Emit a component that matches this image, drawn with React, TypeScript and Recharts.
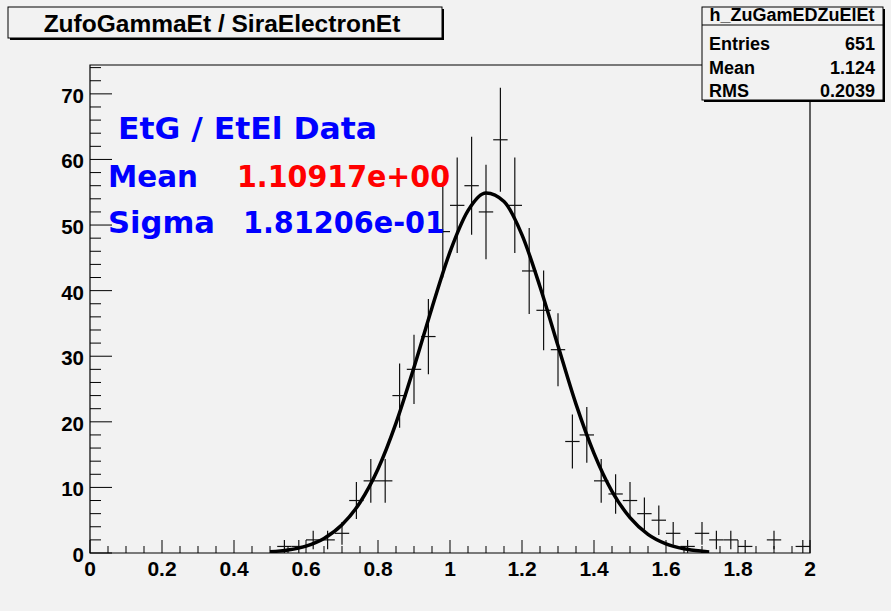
import React from 'react';
import { ComposedChart, Scatter, Line, XAxis, YAxis, ErrorBar, ReferenceArea } from 'recharts';

// histogram bins (width 0.04)
const binCenters = [
  0.54, 0.58, 0.62, 0.66, 0.7, 0.74, 0.78, 0.82, 0.86, 0.9, 0.94, 0.98,
  1.02, 1.06, 1.1, 1.14, 1.18, 1.22, 1.26, 1.3, 1.34, 1.38, 1.42, 1.46,
  1.5, 1.54, 1.58, 1.62, 1.66, 1.7, 1.74, 1.78, 1.82, 1.9, 1.98,
];
const binCounts = [
  1, 1, 2, 2, 3, 8, 11, 11, 24, 28, 33, 49,
  53, 56, 52, 63, 53, 43, 37, 31, 17, 18, 11, 9,
  8, 6, 5, 3, 1, 3, 2, 2, 1, 2, 1,
];
const binErrors = [
  1, 1, 1.41, 1.41, 1.73, 2.83, 3.32, 3.32, 4.9, 5.29, 5.74, 7,
  7.28, 7.48, 7.21, 7.94, 7.28, 6.56, 6.08, 5.57, 4.12, 4.24, 3.32, 3,
  2.83, 2.45, 2.24, 1.73, 1, 1.73, 1.41, 1.41, 1, 1.41, 1,
];
const binHalfWidth = 0.02;

// gaussian fit curve as drawn
const fitX = [
  0.5, 0.55, 0.6, 0.65, 0.7, 0.75, 0.8, 0.85, 0.9, 0.95, 1.0, 1.05, 1.1,
  1.15, 1.2, 1.25, 1.3, 1.35, 1.4, 1.45, 1.5, 1.55, 1.6, 1.65, 1.7, 1.72,
];
const fitY = [
  0.19, 0.47, 1.06, 2.22, 4.3, 7.7, 12.8, 19.8, 28.3, 37.4, 45.9, 52.2, 54.9,
  53.6, 48.5, 40.6, 31.6, 22.7, 15.2, 9.4, 5.4, 2.85, 1.4, 0.64, 0.27, 0.17,
];

const xMajorTicks = [0, 0.2, 0.4, 0.6, 0.8, 1, 1.2, 1.4, 1.6, 1.8, 2];
const yMajorTicks = [0, 10, 20, 30, 40, 50, 60, 70];
const xMinorStep = 0.05;
const yMinorStep = 2;

const statsRows = [
  ['Entries', '651'],
  ['Mean', '1.124'],
  ['RMS', '0.2039'],
];

const BG = '#f2f2f2';
const W = 891;
const H = 611;
const X_MAX = 2;
const Y_MAX = 74.4;

const histData = binCenters.map((x, i) => ({ x, y: binCounts[i], ey: binErrors[i], ex: binHalfWidth }));
const fitData = fitX.map((x, i) => ({ x, y: fitY[i] }));

const buildTicks = (max: number, step: number) => {
  const out: number[] = [];
  for (let i = 0; i * step <= max + 1e-9; i++) out.push(Math.round(i * step * 1000) / 1000);
  return out;
};
const xTicks = buildTicks(X_MAX, xMinorStep);
const yTicks = buildTicks(Y_MAX, yMinorStep);

const isMajor = (v: number, majors: number[]) => majors.some((m) => Math.abs(m - v) < 1e-6);

const XTick = ({ x, y, payload }: any) => {
  const major = isMajor(payload.value, xMajorTicks);
  return (
    <g>
      <line x1={x} x2={x} y1={y} y2={y - (major ? 13 : 7)} stroke="#000" />
      {major && (
        <text x={x} y={y + 23} textAnchor="middle" fontFamily="'Liberation Sans', Arial" fontWeight="bold" fontSize={21} fill="#000">
          {String(payload.value)}
        </text>
      )}
    </g>
  );
};

const YTick = ({ x, y, payload }: any) => {
  const major = isMajor(payload.value, yMajorTicks);
  return (
    <g>
      <line x1={x} x2={x + (major ? 22 : 11)} y1={y} y2={y} stroke="#000" />
      {major && (
        <text x={x - 6} y={y + 9} textAnchor="end" fontFamily="'Liberation Sans', Arial" fontWeight="bold" fontSize={20.5} fill="#000">
          {String(payload.value)}
        </text>
      )}
    </g>
  );
};

const Overlay = () => (
  <svg width={W} height={H} style={{ position: 'absolute', left: 0, top: 0, pointerEvents: 'none' }}>
    {/* title box */}
    <rect x={10} y={9} width={434} height={31} fill="#000" />
    <rect x={8} y={7} width={434} height={31} fill={BG} stroke="#000" />
    <text x={222} y={32} textAnchor="middle" fontFamily="'Liberation Sans', Arial" fontWeight="bold" fontSize={24.5} fill="#000">
      ZufoGammaEt / SiraElectronEt
    </text>

    {/* stats box */}
    <rect x={704} y={9} width={181} height={93} fill="#000" />
    <rect x={702} y={7} width={181} height={93} fill={BG} stroke="#000" />
    <line x1={702} x2={883} y1={25} y2={25} stroke="#000" />
    <text x={792} y={21} textAnchor="middle" fontFamily="'Liberation Sans', Arial" fontWeight="bold" fontSize={18} fill="#000">
      h_ZuGamEDZuElEt
    </text>
    {statsRows.map(([k, v], i) => (
      <g key={k}>
        <text x={709} y={50 + i * 23.5} fontFamily="'Liberation Sans', Arial" fontWeight="bold" fontSize={18} fill="#000">{k}</text>
        <text x={875} y={50 + i * 23.5} textAnchor="end" fontFamily="'Liberation Sans', Arial" fontWeight="bold" fontSize={18} fill="#000">{v}</text>
      </g>
    ))}

    {/* fit result text */}
    <g fontFamily="'DejaVu Sans', Verdana, sans-serif" fontWeight="bold" fontSize={31}>
      <text x={118} y={139} fill="#0000ff" textLength={259} lengthAdjust="spacingAndGlyphs">EtG / EtEl Data</text>
      <text x={108} y={187} fill="#0000ff" textLength={90} lengthAdjust="spacingAndGlyphs">Mean</text>
      <text x={237} y={187} fill="#ff0000" textLength={213} lengthAdjust="spacingAndGlyphs">1.10917e+00</text>
      <text x={108} y={233} fill="#0000ff" textLength={107} lengthAdjust="spacingAndGlyphs">Sigma</text>
      <text x={243} y={233} fill="#0000ff" textLength={202} lengthAdjust="spacingAndGlyphs">1.81206e-01</text>
    </g>
  </svg>
);

const App = () => {
  return (
    <div style={{ position: 'absolute', left: 0, top: 0, width: W, height: H, background: BG }}>
      <ComposedChart width={W} height={H} margin={{ top: 65, right: 81, bottom: 18, left: 30 }}>
        <XAxis
          dataKey="x"
          type="number"
          domain={[0, X_MAX]}
          allowDataOverflow
          ticks={xTicks}
          interval={0}
          tick={<XTick />}
          tickLine={false}
          axisLine={false}
          tickSize={0}
          tickMargin={0}
          height={40}
        />
        <YAxis
          type="number"
          domain={[0, Y_MAX]}
          allowDataOverflow
          ticks={yTicks}
          interval={0}
          tick={<YTick />}
          tickLine={false}
          axisLine={false}
          tickSize={0}
          tickMargin={0}
          width={60}
        />
        <ReferenceArea x1={0} x2={X_MAX} y1={0} y2={Y_MAX} fill="none" stroke="#000" strokeWidth={1.2} />
        <Scatter data={histData} dataKey="y" isAnimationActive={false} shape={() => <g />}>
          <ErrorBar dataKey="ey" direction="y" width={0} stroke="#111" strokeWidth={1.2} />
          <ErrorBar dataKey="ex" direction="x" width={0} stroke="#111" strokeWidth={1.2} />
        </Scatter>
        <Line
          data={fitData}
          dataKey="y"
          type="monotone"
          dot={false}
          stroke="#000"
          strokeWidth={3.5}
          isAnimationActive={false}
        />
      </ComposedChart>
      <Overlay />
    </div>
  );
};

export default App;
